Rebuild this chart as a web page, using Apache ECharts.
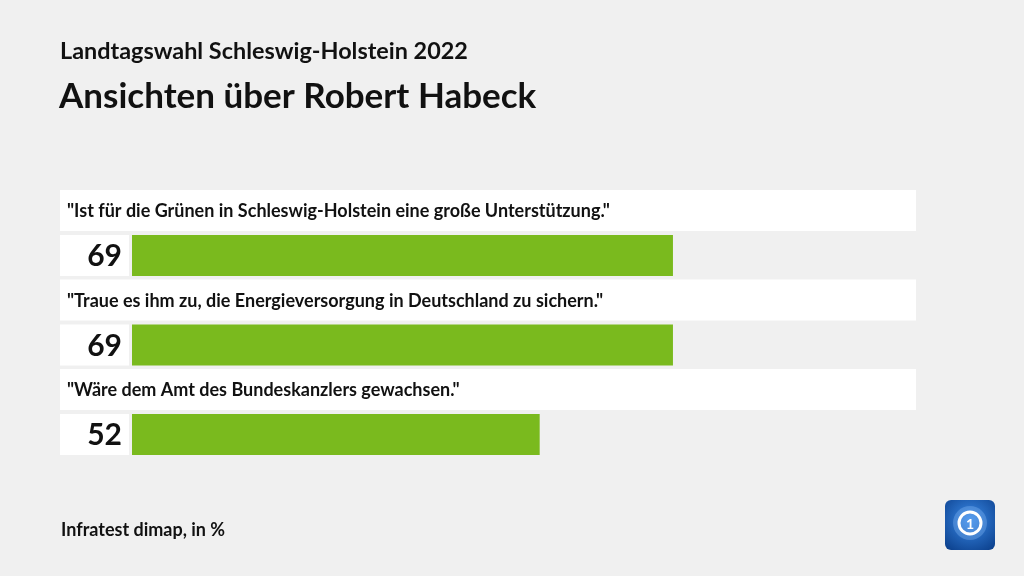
<!DOCTYPE html>
<html>
<head>
<meta charset="utf-8">
<script src="https://cdn.jsdelivr.net/npm/echarts@6/dist/echarts.min.js"></script>
<style>
html,body{margin:0;padding:0;background:#f0f0f0;}
#c{width:1024px;height:576px;}
</style>
</head>
<body>
<div id="c"></div>
<script>
const categories = [
  '"Ist für die Grünen in Schleswig-Holstein eine große Unterstützung."',
  '"Traue es ihm zu, die Energieversorgung in Deutschland zu sichern."',
  '"Wäre dem Amt des Bundeskanzlers gewachsen."'
];
const values = [69, 69, 52];
const supertitle = 'Landtagswahl Schleswig-Holstein 2022';
const maintitle = 'Ansichten über Robert Habeck';
const sourceText = 'Infratest dimap, in %';

const FONT = 'Lato';
const chart = echarts.init(document.getElementById('c'));

function renderItem(params, api) {
  const idx = api.value(0);
  const val = api.value(1);
  const center = api.coord([0, idx]);
  const bandH = api.size([0, 1])[1];
  const top = center[1] - bandH / 2;
  const x0 = center[0];
  const xFull = api.coord([100, idx])[0];
  const xVal = api.coord([val, idx])[0];
  const rowH = 41;
  const gap = 4;
  const boxLeft = x0 - 72;
  return {
    type: 'group',
    children: [
      { type: 'rect', shape: { x: boxLeft, y: top, width: xFull - boxLeft, height: rowH }, style: { fill: '#ffffff' } },
      { type: 'text', style: { x: boxLeft + 7, y: top + rowH / 2 + 1, text: categories[idx], fill: '#111', font: 'bold 18px ' + FONT, verticalAlign: 'middle', align: 'left' } },
      { type: 'rect', shape: { x: boxLeft, y: top + rowH + gap, width: 69, height: rowH }, style: { fill: '#ffffff' } },
      { type: 'text', style: { x: boxLeft + 62, y: top + rowH + gap + rowH / 2 + 1, text: String(val), fill: '#111', font: 'bold 30px ' + FONT, verticalAlign: 'middle', align: 'right' } },
      { type: 'rect', shape: { x: x0, y: top + rowH + gap, width: xVal - x0, height: rowH }, style: { fill: '#7aba1e' } }
    ]
  };
}

chart.setOption({
  backgroundColor: '#f0f0f0',
  animation: false,
  title: [
    { text: supertitle, left: 55, top: 35, textStyle: { fontFamily: FONT, fontWeight: 'bold', fontSize: 23.4, color: '#111' } },
    { text: maintitle, left: 54, top: 74, textStyle: { fontFamily: FONT, fontWeight: 'bold', fontSize: 35, color: '#111' } },
    { text: sourceText, left: 56, top: 516, textStyle: { fontFamily: FONT, fontWeight: 'bold', fontSize: 18, color: '#111' } }
  ],
  grid: { left: 132, right: 108, top: 190, height: 268.5 },
  xAxis: { type: 'value', min: 0, max: 100, show: false },
  yAxis: { type: 'category', data: categories.map((c, i) => i), inverse: true, show: false },
  series: [{
    type: 'custom',
    renderItem: renderItem,
    data: values.map((v, i) => [i, v]),
    encode: { x: 1, y: 0 }
  }],
  graphic: [
    { type: 'rect', left: 945, top: 500, shape: { width: 50, height: 50, r: 6 },
      style: { fill: { type: 'radial', x: 0.5, y: 0.4, r: 0.8, colorStops: [{ offset: 0, color: '#3a8ae8' }, { offset: 1, color: '#083a85' }] } } },
    { type: 'circle', shape: { cx: 970, cy: 523, r: 17 }, style: { fill: 'rgba(150,200,255,0.3)' } },
    { type: 'circle', shape: { cx: 970, cy: 523, r: 11 }, style: { fill: 'none', stroke: '#ffffff', lineWidth: 3 } },
    { type: 'text', style: { x: 970, y: 524, text: '1', fill: '#ffffff', font: 'bold 14px ' + FONT, align: 'center', verticalAlign: 'middle' } }
  ]
});
</script>
</body>
</html>
